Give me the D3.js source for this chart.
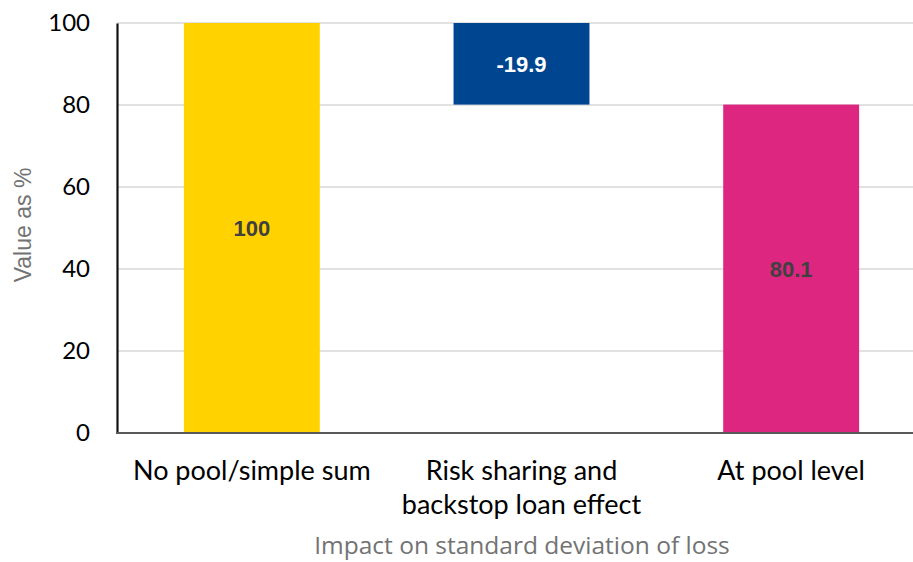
<!DOCTYPE html>
<html>
<head>
<meta charset="utf-8">
<script src="https://cdn.jsdelivr.net/npm/d3@7"></script>
<style>
  html, body { margin: 0; padding: 0; background: #fff; }
  svg { display: block; }
</style>
</head>
<body>
<svg id="chart" width="913" height="562"></svg>
<script>
// Waterfall: standard deviation of loss, simple sum vs. pooled
const categories = [["No pool/simple sum"], ["Risk sharing and", "backstop loan effect"], ["At pool level"]];
const barStart = [0, 100, 0];
const barEnd = [100, 80.1, 80.1];
const labels = ["100", "-19.9", "80.1"];
const colors = ["#FFD200", "#00458F", "#DD2680"];
const labelColors = ["#404040", "#ffffff", "#404040"];
const yTicks = [0, 20, 40, 60, 80, 100];

const svg = d3.select("#chart");
const plotLeft = 117, plotRight = 926, plotTop = 23, plotBottom = 433;

const x = d3.scaleBand().domain(d3.range(categories.length)).range([plotLeft, plotRight]).paddingInner(0.496).paddingOuter(0.248);
const y = d3.scaleLinear().domain([0, 100]).range([plotBottom, plotTop]);

// gridlines
svg.append("g").selectAll("line").data(yTicks.filter(d => d > 0)).join("line")
  .attr("x1", plotLeft).attr("x2", 913)
  .attr("y1", d => y(d)).attr("y2", d => y(d))
  .attr("stroke", "#d9d9d9").attr("stroke-width", 1.3);

// bars
svg.append("g").selectAll("rect").data(d3.range(categories.length)).join("rect")
  .attr("x", i => x(i)).attr("width", x.bandwidth())
  .attr("y", i => y(Math.max(barStart[i], barEnd[i])))
  .attr("height", i => Math.abs(y(barStart[i]) - y(barEnd[i])))
  .attr("fill", i => colors[i]);

// value labels
svg.append("g").selectAll("text").data(d3.range(categories.length)).join("text")
  .attr("x", i => x(i) + x.bandwidth() / 2)
  .attr("y", i => (y(barStart[i]) + y(barEnd[i])) / 2)
  .attr("dy", "0.36em")
  .attr("text-anchor", "middle")
  .attr("font-family", "Liberation Sans, Arial, sans-serif")
  .attr("font-weight", "bold").attr("font-size", 22)
  .attr("fill", i => labelColors[i])
  .text(i => labels[i]);

// axes
const yAxis = svg.append("g").attr("transform", `translate(${plotLeft},0)`)
  .call(d3.axisLeft(y).tickValues(yTicks).tickSize(0).tickPadding(27));
yAxis.select(".domain").attr("stroke", "#111").attr("stroke-width", 2.2);
yAxis.selectAll("text").attr("font-family", "Lato, sans-serif").attr("font-size", 24).attr("fill", "#000");

svg.append("line").attr("x1", plotLeft - 1).attr("x2", 913).attr("y1", plotBottom).attr("y2", plotBottom)
  .attr("stroke", "#595959").attr("stroke-width", 2.2);

// category labels
const cat = svg.append("g").selectAll("text").data(d3.range(categories.length)).join("text")
  .attr("x", i => x(i) + x.bandwidth() / 2)
  .attr("y", 480)
  .attr("text-anchor", "middle")
  .attr("font-family", "Lato, sans-serif").attr("font-size", 27).attr("fill", "#000");
cat.selectAll("tspan").data(i => categories[i]).join("tspan")
  .attr("x", function() { return this.parentNode.getAttribute("x"); })
  .attr("dy", (d, j) => j === 0 ? 0 : 34)
  .text(d => d);

// axis titles
svg.append("text").attr("x", 522).attr("y", 554).attr("text-anchor", "middle")
  .attr("font-family", "Open Sans, sans-serif").attr("font-size", 24.5).attr("fill", "#737373")
  .text("Impact on standard deviation of loss");
svg.append("text").attr("transform", "translate(31,225) rotate(-90)").attr("text-anchor", "middle")
  .attr("font-family", "Liberation Sans, Arial, sans-serif").attr("font-size", 23).attr("fill", "#737373")
  .text("Value as %");
</script>
</body>
</html>
